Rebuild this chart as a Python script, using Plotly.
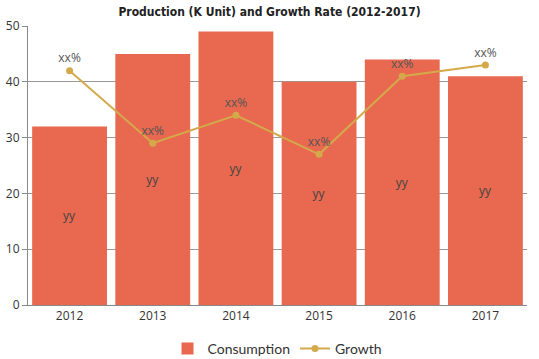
import plotly.graph_objects as go

years = ["2012", "2013", "2014", "2015", "2016", "2017"]
consumption = [32, 45, 49, 40, 44, 41]
growth = [42, 29, 34, 27, 41, 43]
bar_labels = ["yy"] * 6
line_labels = ["xx%"] * 6

fig = go.Figure()
fig.add_trace(go.Bar(
    x=years, y=consumption, name="Consumption",
    marker=dict(color="#E8694F", line=dict(width=0)),
    text=bar_labels, textposition="inside", insidetextanchor="middle",
    textfont=dict(color="#444", size=12, family="Open Sans"),
    width=0.9,
))
fig.add_trace(go.Scatter(
    x=years, y=growth, name="Growth", mode="lines+markers+text",
    line=dict(color="#D4A94A", width=2),
    marker=dict(color="#D4A94A", size=7),
    text=line_labels, textposition="top center",
    textfont=dict(color="#555", size=12, family="Open Sans"),
))

fig.update_layout(
    width=539, height=359,
    margin=dict(l=28, r=12, t=26, b=54, autoexpand=False),
    paper_bgcolor="white", plot_bgcolor="white",
    title=dict(text="<b>Production (K Unit) and Growth Rate (2012-2017)</b>",
               x=0.5, xanchor="center", y=0.967, yanchor="middle",
               font=dict(family="DejaVu Sans Condensed, DejaVu Sans", size=12, color="#222")),
    showlegend=True,
    legend=dict(orientation="h", x=0.5, xanchor="center", yref="container", y=0.028, yanchor="middle",
                font=dict(family="Lato", size=14, color="#333"), traceorder="normal",
                itemwidth=30),
    bargap=0.1,
    xaxis=dict(showgrid=False, showline=True, linecolor="#888", ticks="",
               tickfont=dict(family="Open Sans", size=12, color="#333")),
    yaxis=dict(range=[0, 50], dtick=10, showgrid=True, gridcolor="#999",
               showline=True, linecolor="#888", ticks="outside", tickcolor="#888", ticklen=5,
               zeroline=False,
               tickfont=dict(family="Open Sans", size=12, color="#333")),
)

fig.write_html("out.html")
